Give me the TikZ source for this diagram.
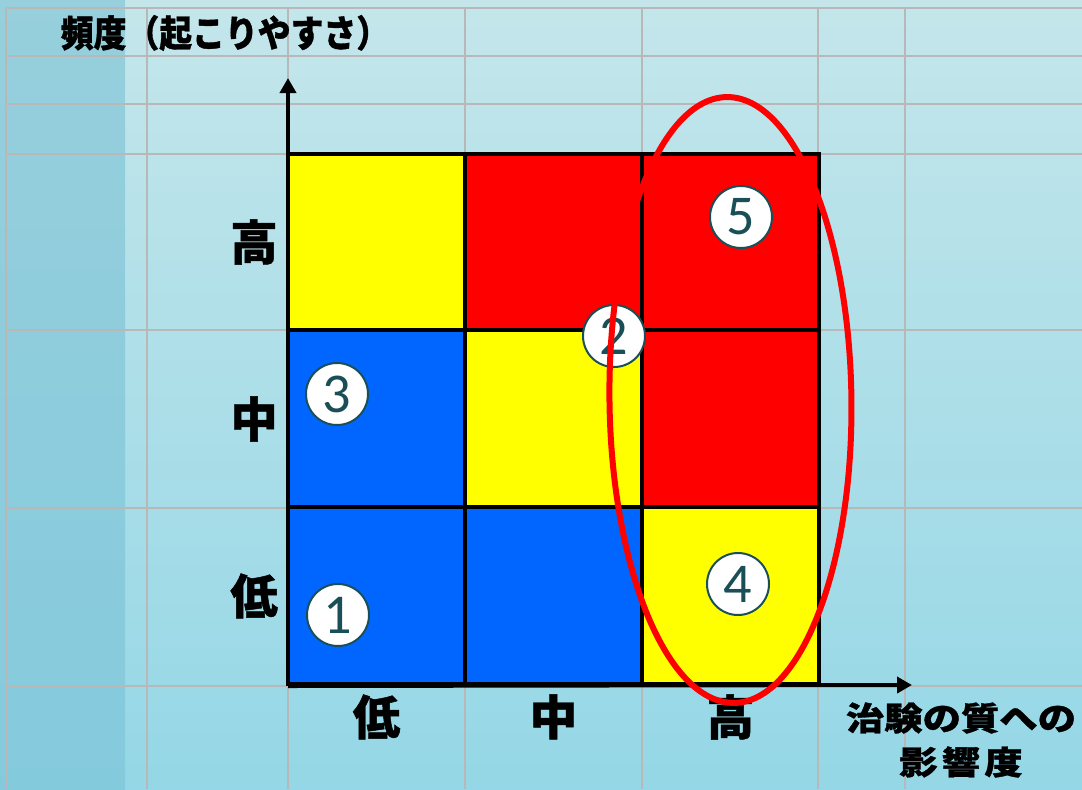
\documentclass[tikz,border=0pt]{standalone}
\usepackage{fontspec}
\usetikzlibrary{positioning,arrows.meta}
\newfontfamily\jpfont{Noto Sans CJK JP}[BoldFeatures={FakeBold=1}]
\newfontfamily\numfont{Carlito}
\definecolor{bgtop}{HTML}{C4E6EB}
\definecolor{bgbot}{HTML}{95D7E6}
\definecolor{striptop}{HTML}{97CFDC}
\definecolor{stripbot}{HTML}{84CADD}
\definecolor{gridgray}{HTML}{B8B8B8}
\definecolor{lowc}{HTML}{0066FF}
\definecolor{midc}{HTML}{FFFF00}
\definecolor{highc}{HTML}{FF0000}
\definecolor{inkteal}{HTML}{1A4F57}

\begin{document}
\begin{tikzpicture}[x=0.02cm, y=-0.02cm, node distance=3.54cm, on grid,
    cell/.style={draw, line width=0.08cm, minimum size=3.54cm, inner sep=0pt, outer sep=0pt},
    numcirc/.style={circle, draw=inkteal, line width=0.04cm, fill=white, minimum size=1.24cm,
      inner sep=0pt, text=inkteal, font=\numfont\fontsize{32}{32}\selectfont},
    lbl/.style={font=\jpfont\bfseries\fontsize{27}{27}\selectfont},
    axis/.style={line width=0.08cm, -{Triangle[length=0.3cm, width=0.32cm]}},
    riskloop/.style={draw=highc, line width=0.12cm}]
    \useasboundingbox (0,0) rectangle (1082,789);
    % background sheet
    \shade[top color=bgtop, bottom color=bgbot] (0,0) rectangle (1082,789);
    \shade[top color=striptop, bottom color=stripbot] (0,0) rectangle (125,789);
    \foreach \x in {6,147,288,465,642,818,905}
        \draw[gridgray, line width=0.03cm] (\x,8) -- (\x,789);
    \foreach \y in {8,56,104,154,330,508,686}
        \draw[gridgray, line width=0.03cm] (6,\y) -- (1082,\y);

    % matrix: rows = frequency, columns = impact
    \node[cell, fill=midc] (h1) at (376.5,242) {};
    \node[cell, fill=highc, right=of h1] (h2) {};
    \node[cell, fill=highc, right=of h2] (h3) {};
    \node[cell, fill=lowc, below=of h1] (m1) {};
    \node[cell, fill=midc, right=of m1] (m2) {};
    \node[cell, fill=highc, right=of m2] (m3) {};
    \node[cell, fill=lowc, below=of m1] (l1) {};
    \node[cell, fill=lowc, right=of l1] (l2) {};
    \node[cell, fill=midc, right=of l2] (l3) {};

    % axes
    \coordinate (o) at (288,686);
    \coordinate (ytip) at (288,78);
    \coordinate (xtip) at (912,685);
    \draw[axis] (o) -- (ytip);
    \draw[axis] (o) -- (xtip);

    \node[font=\jpfont\bfseries\fontsize{21}{21}\selectfont] (ytitle) at (225,33)
        {\scalebox{0.89}[1]{頻度（起こりやすさ）}};
    \node[lbl, left=2.45cm of h1] (yh) {高};
    \node[lbl, left=2.45cm of m1] (ym) {中};
    \node[lbl, left=2.45cm of l1] (yl) {低};
    \node[lbl, below=2.42cm of l1] (xl) {低};
    \node[lbl, below=2.42cm of l2] (xm) {中};
    \node[lbl, below=2.42cm of l3] (xh) {高};
    \node[font=\jpfont\bfseries\fontsize{18.5}{25}\selectfont, align=center] (xtitle) at (961,740)
        {\scalebox{1.18}[1]{治験の質への}\\\scalebox{1.18}[1]{影\kern2pt 響\kern2pt 度}};

    % risks
    \node[numcirc] (r1) at (338,615) {1};
    \node[numcirc] (r2) at (614,336) {2};
    \node[numcirc] (r3) at (337,394) {3};
    \node[numcirc] (r4) at (738,584) {4};
    \node[numcirc] (r5) at (741,217) {5};

    \coordinate (rc) at (730.5,400);
    \draw[riskloop, rotate around={0.7:(rc)}] (rc) ellipse [x radius=2.42cm, y radius=6.06cm];
\end{tikzpicture}
\end{document}
